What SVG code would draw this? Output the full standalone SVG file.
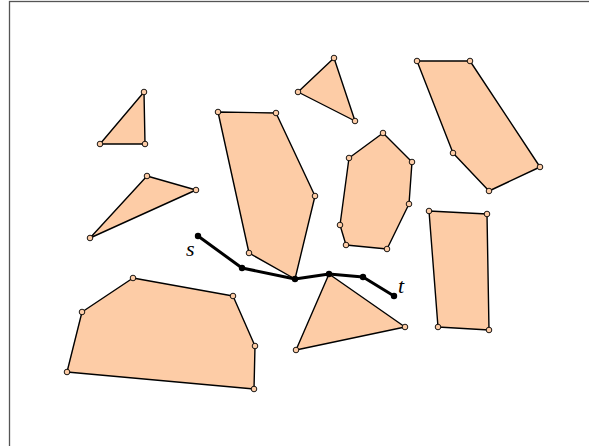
<svg xmlns="http://www.w3.org/2000/svg" width="589" height="446" viewBox="0 0 589 446">
<style>
.poly{fill:#fdcca6;stroke:#000;stroke-width:1.4;stroke-linejoin:round}
.v{fill:#fdcca6;stroke:#000;stroke-width:0.9}
.pathline{fill:none;stroke:#000;stroke-width:3;stroke-linejoin:round;stroke-linecap:round}
.pd{fill:#000}
.lbl{font-family:"Liberation Serif",serif;font-style:italic;font-size:22px;fill:#000}
</style>
<rect x="9.5" y="1.5" width="600" height="460" fill="#fff" stroke="#555" stroke-width="1.3"/>
<g id="tri1">
<polygon class="poly" points="144,92 100,144 145,144"/>
<circle class="v" cx="144" cy="92" r="2.8"/><circle class="v" cx="100" cy="144" r="2.8"/><circle class="v" cx="145" cy="144" r="2.8"/>
</g>
<g id="tri2">
<polygon class="poly" points="147,176 196,190 90,238"/>
<circle class="v" cx="147" cy="176" r="2.8"/><circle class="v" cx="196" cy="190" r="2.8"/><circle class="v" cx="90" cy="238" r="2.8"/>
</g>
<g id="poly1">
<polygon class="poly" points="218,112 276,113 315,196 295,279 249,253"/>
<circle class="v" cx="218" cy="112" r="2.8"/><circle class="v" cx="276" cy="113" r="2.8"/><circle class="v" cx="315" cy="196" r="2.8"/><circle class="v" cx="249" cy="253" r="2.8"/>
</g>
<g id="tri3">
<polygon class="poly" points="334,58 298,92 355,121"/>
<circle class="v" cx="334" cy="58" r="2.8"/><circle class="v" cx="298" cy="92" r="2.8"/><circle class="v" cx="355" cy="121" r="2.8"/>
</g>
<g id="poly2">
<polygon class="poly" points="349,158 383,133 412,162 409,204 387,249 346,245 340,225"/>
<circle class="v" cx="349" cy="158" r="2.8"/><circle class="v" cx="383" cy="133" r="2.8"/><circle class="v" cx="412" cy="162" r="2.8"/><circle class="v" cx="409" cy="204" r="2.8"/><circle class="v" cx="387" cy="249" r="2.8"/><circle class="v" cx="346" cy="245" r="2.8"/><circle class="v" cx="340" cy="225" r="2.8"/>
</g>
<g id="poly3">
<polygon class="poly" points="417,61 470,61 540,167 489,191 453,153"/>
<circle class="v" cx="417" cy="61" r="2.8"/><circle class="v" cx="470" cy="61" r="2.8"/><circle class="v" cx="540" cy="167" r="2.8"/><circle class="v" cx="489" cy="191" r="2.8"/><circle class="v" cx="453" cy="153" r="2.8"/>
</g>
<g id="rect1">
<polygon class="poly" points="429,211 487,214 489,330 438,327"/>
<circle class="v" cx="429" cy="211" r="2.8"/><circle class="v" cx="487" cy="214" r="2.8"/><circle class="v" cx="489" cy="330" r="2.8"/><circle class="v" cx="438" cy="327" r="2.8"/>
</g>
<g id="tri4">
<polygon class="poly" points="329,274 405,327 296,350"/>
<circle class="v" cx="405" cy="327" r="2.8"/><circle class="v" cx="296" cy="350" r="2.8"/>
</g>
<g id="poly4">
<polygon class="poly" points="133,278 233,296 255,346 254,389 67,372 82,312"/>
<circle class="v" cx="133" cy="278" r="2.8"/><circle class="v" cx="233" cy="296" r="2.8"/><circle class="v" cx="255" cy="346" r="2.8"/><circle class="v" cx="254" cy="389" r="2.8"/><circle class="v" cx="67" cy="372" r="2.8"/><circle class="v" cx="82" cy="312" r="2.8"/>
</g>
<g id="connectors">
<polyline class="pathline" points="198,236 242,268 295,279 329,274 363,277 394,296"/>
<circle class="pd" cx="198" cy="236" r="3.2"/><circle class="pd" cx="242" cy="268" r="3.2"/><circle class="pd" cx="295" cy="279" r="3.2"/><circle class="pd" cx="329" cy="274" r="3.2"/><circle class="pd" cx="363" cy="277" r="3.2"/><circle class="pd" cx="394" cy="296" r="3.2"/>
</g>
<g id="labels">
<text class="lbl" x="186" y="256">s</text>
<text class="lbl" x="398" y="293">t</text>
</g>
</svg>
